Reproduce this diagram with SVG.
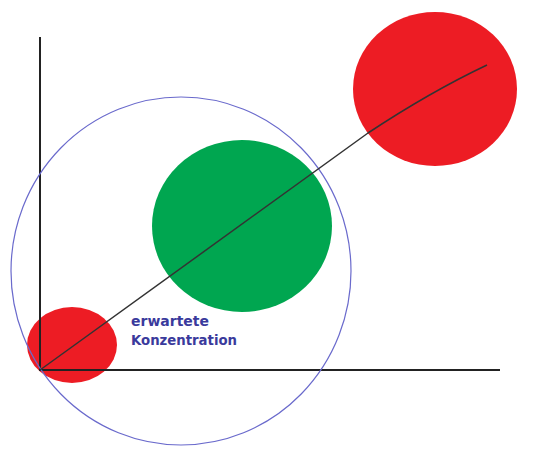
<svg xmlns="http://www.w3.org/2000/svg" width="533" height="462" viewBox="0 0 533 462">
<style>
.red{fill:#ed1c24}
.axis{stroke:#222;stroke-width:2;fill:none}
.lbl{font-family:"DejaVu Sans",Verdana,sans-serif;font-weight:bold;font-size:14px;fill:#3a3a9c}
</style>
<rect width="533" height="462" fill="#fff"/>
<g id="red-small"><ellipse class="red" cx="72" cy="345" rx="45" ry="38"/></g>
<g id="green"><ellipse cx="242" cy="226" rx="90" ry="86" fill="#00a650"/></g>
<g id="red-large"><ellipse class="red" cx="435" cy="89" rx="82" ry="77"/></g>
<g id="axes">
<line class="axis" x1="40" y1="37" x2="40" y2="371"/>
<line class="axis" x1="39" y1="370" x2="500" y2="370"/>
</g>
<g id="range"><ellipse cx="181" cy="271" rx="170" ry="174" fill="none" stroke="#6a6acc" stroke-width="1.2"/></g>
<g id="connectors">
<path d="M40,370 L368,133 Q430,92 487,65" fill="none" stroke="#333" stroke-width="1.5"/>
</g>
<g id="label">
<text class="lbl" x="131" y="326" textLength="78" lengthAdjust="spacingAndGlyphs">erwartete</text>
<text class="lbl" x="131" y="345" textLength="106" lengthAdjust="spacingAndGlyphs">Konzentration</text>
</g>
</svg>
